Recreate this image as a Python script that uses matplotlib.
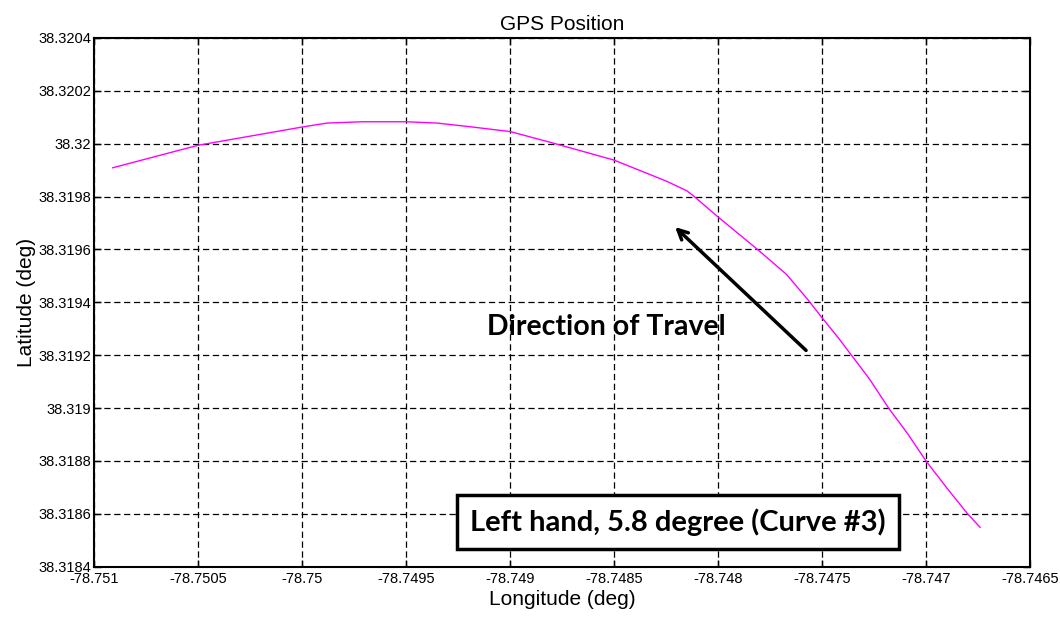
import numpy as np
import matplotlib.pyplot as plt

# GPS track, curve #3 (deg)
lon = [-78.75091, -78.7505, -78.75, -78.74988, -78.74971, -78.7495, -78.74935,
       -78.74918, -78.749, -78.74881, -78.7485, -78.74825, -78.74815, -78.74812,
       -78.748, -78.74781, -78.74767, -78.74757, -78.7475, -78.74742, -78.74727,
       -78.74718, -78.74709, -78.747, -78.7469, -78.7468, -78.74674]
lat = [38.319909, 38.319994, 38.320063, 38.320078, 38.320083, 38.320083, 38.320078,
       38.320063, 38.320046, 38.320006, 38.319938, 38.319859, 38.319822, 38.319804,
       38.319723, 38.3196, 38.319505, 38.319412, 38.319342, 38.319264, 38.319108,
       38.319, 38.318905, 38.3188, 38.318698, 38.3186, 38.318549]

xticks = [-78.751, -78.7505, -78.75, -78.7495, -78.749, -78.7485, -78.748,
          -78.7475, -78.747, -78.7465]
xtick_labels = ['-78.751', '-78.7505', '-78.75', '-78.7495', '-78.749', '-78.7485',
                '-78.748', '-78.7475', '-78.747', '-78.7465']
yticks = [38.3184, 38.3186, 38.3188, 38.319, 38.3192, 38.3194, 38.3196, 38.3198,
          38.32, 38.3202, 38.3204]
ytick_labels = ['38.3184', '38.3186', '38.3188', '38.319', '38.3192', '38.3194',
                '38.3196', '38.3198', '38.32', '38.3202', '38.3204']

# arrow tail/head (lon, lat)
arrow_tail = (-78.747567, 38.319211)
arrow_head = (-78.748216, 38.319692)

plt.rcParams['font.family'] = ['Liberation Sans', 'DejaVu Sans']
plt.rcParams['lines.scale_dashes'] = False

fig = plt.figure(figsize=(10.6, 6.17), dpi=100)
ax = fig.add_axes([0.0887, 0.0815, 0.883, 0.857])

ax.plot(lon, lat, color='#ff00ff', lw=1.0, zorder=3)

ax.set_xlim(-78.751, -78.7465)
ax.set_ylim(38.3184, 38.3204)
ax.set_xticks(xticks)
ax.set_xticklabels(xtick_labels)
ax.set_yticks(yticks)
ax.set_yticklabels(ytick_labels)
ax.tick_params(direction='in', length=5, width=1, labelsize=10.5,
               top=True, right=True, pad=2)
ax.tick_params(axis='x', pad=4)
ax.grid(True, color='black', linestyle=(0, (4.5, 2.6)), linewidth=0.9)
for s in ax.spines.values():
    s.set_linewidth(1.5)

ax.set_title('GPS Position', fontsize=15, pad=6)
ax.set_xlabel('Longitude (deg)', fontsize=15, labelpad=3)
ax.set_ylabel('Latitude (deg)', fontsize=15, labelpad=2)

ax.annotate('', xy=arrow_head, xytext=arrow_tail,
            arrowprops=dict(arrowstyle='->,head_length=0.7,head_width=0.35',
                            color='black', lw=2.5), zorder=4)
ax.text(-78.748538, 38.319305, 'Direction of Travel', fontsize=20.5,
        fontweight='bold', family=['Lato', 'DejaVu Sans'],
        ha='center', va='center', zorder=5)
ax.text(-78.748192, 38.31857, 'Left hand, 5.8 degree (Curve #3)', fontsize=21,
        fontweight='bold', family=['Lato', 'DejaVu Sans'],
        ha='center', va='center', zorder=5,
        bbox=dict(boxstyle='square,pad=0.45', fc='white', ec='black', lw=2.5))

fig.savefig('out.png', dpi=100)
